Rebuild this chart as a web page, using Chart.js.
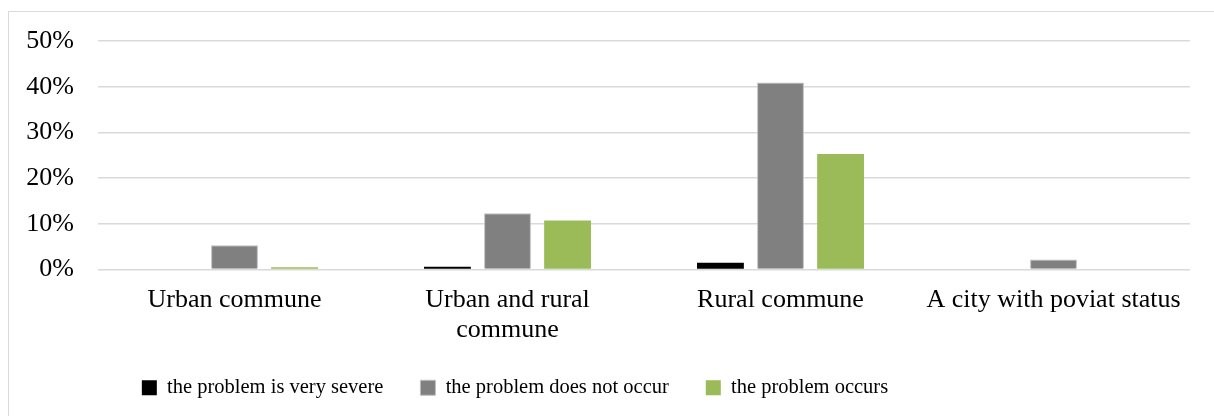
<!DOCTYPE html>
<html>
<head>
<meta charset="utf-8">
<script src="https://cdn.jsdelivr.net/npm/chart.js@4/dist/chart.umd.min.js"></script>
<style>
  html, body { margin: 0; padding: 0; background: #fff; }
  #wrap { position: relative; width: 1214px; height: 416px; overflow: hidden; }
  #frame { position: absolute; left: 8px; top: 11px; width: 1230px; height: 430px; border: 1px solid #d9d9d9; box-sizing: border-box; }
  #cv { position: absolute; left: 0; top: 0; }
</style>
</head>
<body>
<div id="wrap">
  <div id="frame"></div>
  <canvas id="cv" width="1214" height="416"></canvas>
</div>
<script>
// categories and series (percent of answers)
var categorias = ["Urban commune", ["Urban and rural", "commune"], "Rural commune", "A city with poviat status"];
var muySevero = [0, 0.6, 1.5, 0];
var noOcurre = [5.3, 12.3, 40.9, 2.2];
var ocurre = [0.5, 10.7, 25.3, 0];
var ticksY = [0, 10, 20, 30, 40, 50];

var fuente = "'Liberation Serif', 'Times New Roman', serif";

var ctx = document.getElementById("cv").getContext("2d");
var grafica = new Chart(ctx, {
  type: "bar",
  data: {
    labels: categorias,
    datasets: [
      { label: "the problem is very severe", data: muySevero, backgroundColor: "#000000" },
      { label: "the problem does not occur", data: noOcurre, backgroundColor: "#808080", borderColor: "#bfbfbf", borderWidth: 1 },
      { label: "the problem occurs", data: ocurre, backgroundColor: "#9bbb59" }
    ]
  },
  options: {
    responsive: false,
    animation: false,
    devicePixelRatio: 1,
    layout: { padding: { left: 0, right: 24, top: 41, bottom: 8 } },
    datasets: { bar: { categoryPercentage: 0.66, barPercentage: 0.78 } },
    scales: {
      x: {
        grid: { display: false },
        border: { display: false },
        ticks: { color: "#000", font: { family: fuente, size: 26, lineHeight: 1.15 }, padding: 8, maxRotation: 0, autoSkip: false },
        afterFit: function(scale){ scale.height = 71; }
      },
      y: {
        min: 0, max: 50,
        afterBuildTicks: function(scale){ scale.ticks = ticksY.map(function(v){ return { value: v }; }); },
        grid: { color: "#d9d9d9", lineWidth: 1.5, drawTicks: false },
        border: { display: false },
        ticks: { color: "#000", font: { family: fuente, size: 26 }, padding: 24, callback: function(v){ return v + "%"; } },
        afterFit: function(scale){ scale.width = 98; }
      }
    },
    plugins: {
      legend: {
        position: "bottom",
        labels: { color: "#000", font: { family: fuente, size: 20.5 }, boxWidth: 15, boxHeight: 15, padding: 37 }
      },
      tooltip: { enabled: false }
    }
  }
});

// la leyenda del original esta corrida a la izquierda
var dibujarLeyenda = grafica.legend.draw;
grafica.legend.draw = function(area){
  var c = this.ctx;
  c.save();
  c.translate(-80, 0);
  dibujarLeyenda.call(this, area);
  c.restore();
};
grafica.draw();
</script>
</body>
</html>
